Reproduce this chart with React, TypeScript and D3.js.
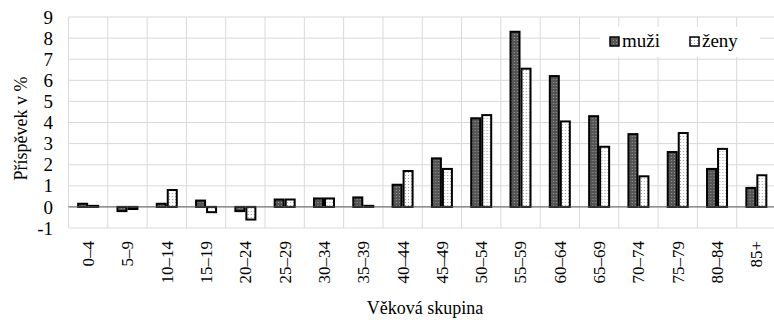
import React from "react";
import * as d3 from "d3";

const categories = ["0–4","5–9","10–14","15–19","20–24","25–29","30–34","35–39","40–44","45–49","50–54","55–59","60–64","65–69","70–74","75–79","80–84","85+"];
const muzi = [0.15,-0.2,0.15,0.3,-0.2,0.35,0.4,0.45,1.05,2.3,4.2,8.3,6.2,4.3,3.45,2.6,1.8,0.9];
const zeny = [0.05,-0.1,0.8,-0.25,-0.6,0.35,0.4,0.05,1.7,1.8,4.35,6.55,4.05,2.85,1.45,3.5,2.75,1.5];
const seriesNames = ["muži","ženy"];
const yTicks = [-1,0,1,2,3,4,5,6,7,8,9];

const W = 774, H = 322;
const left = 68.5, right = 776, top = 17, bottom = 228;
const font = "'Liberation Serif', 'Times New Roman', serif";

export default function App() {
  const x0 = d3.scaleBand<string>().domain(categories).range([left, right]).paddingInner(0).paddingOuter(0);
  const y = d3.scaleLinear().domain([-1, 9]).range([bottom, top]);
  const bw = x0.bandwidth();
  const x1 = d3.scaleBand<string>().domain(seriesNames).range([bw / 2 - 11, bw / 2 + 11]).padding(0);
  const series = [muzi, zeny];
  const fills = ["url(#patM)", "url(#patZ)"];
  return (
    <div style={{ position: "absolute", left: 0, top: 0 }}>
      <svg width={W} height={H} style={{ display: "block", background: "#fff" }}>
        <defs>
          <pattern id="patM" width="3" height="3" patternUnits="userSpaceOnUse">
            <rect width="3" height="3" fill="#555555" />
            <rect x="1" y="1" width="1" height="1" fill="#999999" />
          </pattern>
          <pattern id="patZ" width="3" height="3" patternUnits="userSpaceOnUse">
            <rect width="3" height="3" fill="#ffffff" />
            <rect x="1" y="1" width="1" height="1" fill="#a0a0a0" />
          </pattern>
        </defs>
        {yTicks.map((t) => (
          <line key={"h" + t} x1={left} x2={right} y1={y(t)} y2={y(t)} stroke="#d9d9d9" strokeWidth={1} />
        ))}
        {categories.map((c, i) => (
          <line key={"v" + i} x1={(x0(c) as number)} x2={(x0(c) as number)} y1={top} y2={bottom} stroke="#d9d9d9" strokeWidth={1} />
        ))}
        {categories.map((c, i) => (
          <g key={"g" + i} transform={`translate(${x0(c)},0)`}>
            {series.map((s, k) => {
              const v = s[i];
              const y0 = y(0), yv = y(v);
              return (
                <rect key={k} x={(x1(seriesNames[k]) as number) + 1} width={x1.bandwidth() - 2}
                  y={Math.min(y0, yv)} height={Math.max(Math.abs(yv - y0), 0.5)}
                  fill={fills[k]} stroke="#000" strokeWidth={2} />
              );
            })}
          </g>
        ))}
        <line x1={left} x2={right} y1={y(0)} y2={y(0)} stroke="#595959" strokeWidth={1} />
        {yTicks.map((t) => (
          <text key={"yt" + t} x={53} y={y(t)} dy="0.35em" textAnchor="end" fontFamily={font} fontSize={19} fill="#000">{t}</text>
        ))}
        <text transform={`translate(21,${(top + bottom) / 2 + 6}) rotate(-90)`} textAnchor="middle" dy="0.35em" fontFamily={font} fontSize={18} fill="#000">Příspěvek v %</text>
        {categories.map((c, i) => (
          <text key={"xt" + i} transform={`translate(${(x0(c) as number) + bw / 2},241) rotate(-90)`} textAnchor="end" dy="0.35em" fontFamily={font} fontSize={17} fill="#000">{c}</text>
        ))}
        <text x={425} y={314} textAnchor="middle" fontFamily={font} fontSize={18} fill="#000">Věková skupina</text>
        <rect x={600} y={27} width={160} height={30} fill="#fff" />
        {seriesNames.map((n, k) => {
          const lx = k === 0 ? 610 : 690;
          return (
            <g key={"l" + k}>
              <rect x={lx} y={37} width={9} height={9} fill={fills[k]} stroke="#000" strokeWidth={1.5} />
              <text x={lx + 12} y={47} fontFamily={font} fontSize={19} fill="#000">{n}</text>
            </g>
          );
        })}
      </svg>
    </div>
  );
}
